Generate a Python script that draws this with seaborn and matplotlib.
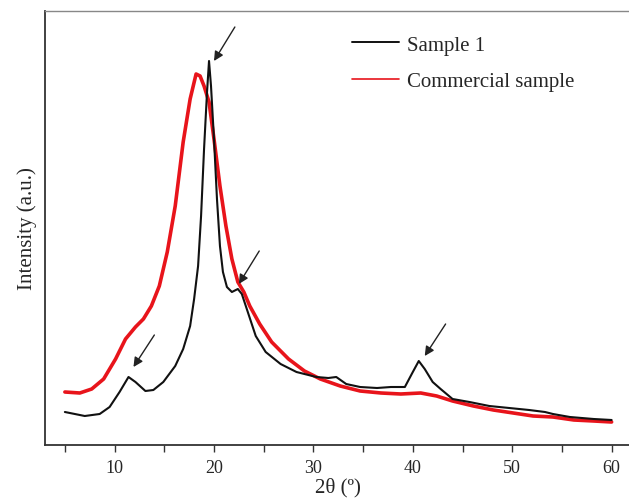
import matplotlib

matplotlib.use("Agg")

import matplotlib.pyplot as plt
import pandas as pd
import seaborn as sns
from matplotlib.lines import Line2D
from matplotlib.ticker import MultipleLocator

# 2-theta positions (deg) and intensities (a.u.)
SAMPLE1_2THETA = [5.0, 7.0, 8.5, 9.5, 10.5, 11.4, 12.1, 13.1, 13.9, 14.9, 16.1, 16.9,
                  17.6, 18.0, 18.4, 18.7, 19.0, 19.3, 19.5, 19.7, 20.0, 20.3, 20.6,
                  20.9, 21.3, 21.8, 22.4, 22.8, 23.4, 24.2, 25.2, 26.7, 28.3, 30.3,
                  31.5, 32.3, 33.3, 34.7, 36.4, 37.8, 39.2, 40.0, 40.6, 41.2, 42.0,
                  42.8, 44.0, 45.7, 47.7, 49.7, 51.7, 53.3, 54.1, 55.8, 58.2, 60.0]
SAMPLE1_INT = [33, 29, 31, 38, 53, 68, 63, 54, 55, 63, 79, 96,
               119, 146, 179, 229, 296, 353, 384, 359, 306, 246, 199,
               173, 158, 153, 156, 151, 133, 109, 93, 81, 73, 68,
               67, 68, 61, 58, 57, 58, 58, 73, 84, 76, 63,
               56, 46, 43, 39, 37, 35, 33, 31, 28, 26, 25]

COMMERCIAL_2THETA = [5.0, 6.5, 7.7, 8.9, 10.1, 11.1, 12.1, 12.9, 13.7, 14.5, 15.3,
                     16.1, 16.9, 17.6, 18.2, 18.6, 19.0, 19.5, 20.0, 20.6, 21.2,
                     21.8, 22.4, 23.0, 23.6, 24.6, 25.8, 27.5, 29.1, 30.7, 32.7,
                     34.7, 36.8, 38.8, 40.8, 42.4, 44.0, 46.1, 48.1, 50.1, 52.1,
                     54.1, 56.2, 58.2, 60.0]
COMMERCIAL_INT = [53, 52, 56, 66, 86, 106, 118, 126, 139, 159, 193,
                  239, 303, 346, 371, 369, 359, 343, 306, 259, 219,
                  186, 163, 153, 139, 121, 103, 86, 74, 66, 59,
                  54, 52, 51, 52, 49, 44, 39, 35, 32, 29,
                  28, 25, 24, 23]

LABELS = ["Sample 1", "Commercial sample"]

# arrows: (tail x, tail y, head x, head y)
ARROWS = [(22.1, 418, 20.0, 384), (24.55, 194, 22.5, 161),
          (14.0, 110, 11.9, 78), (43.3, 121, 41.2, 89)]

sns.set_style("white")
plt.rcParams["font.family"] = ["Liberation Serif", "DejaVu Serif"]

df = pd.concat([
    pd.DataFrame({"two_theta": SAMPLE1_2THETA, "intensity": SAMPLE1_INT, "sample": LABELS[0]}),
    pd.DataFrame({"two_theta": COMMERCIAL_2THETA, "intensity": COMMERCIAL_INT,
                  "sample": LABELS[1]}),
])

fig = plt.figure(figsize=(6.29, 5.02), dpi=100)
ax = fig.add_axes([45 / 629, 56 / 502, 586.5 / 629, 434 / 502])

sns.lineplot(data=df[df["sample"] == LABELS[1]], x="two_theta", y="intensity",
             color="#e8141b", linewidth=2.6, ax=ax, sort=False, legend=False)
sns.lineplot(data=df[df["sample"] == LABELS[0]], x="two_theta", y="intensity",
             color="#111111", linewidth=1.5, ax=ax, sort=False, legend=False)

for x0, y0, x1, y1 in ARROWS:
    ax.annotate("", xy=(x1, y1), xytext=(x0, y0),
                arrowprops=dict(arrowstyle="-|>", color="#222222", lw=1.0,
                                mutation_scale=14, shrinkA=0, shrinkB=0))

ax.set_xlim(3, 62)
ax.set_ylim(0, 434)
ax.xaxis.set_major_locator(MultipleLocator(10))
ax.xaxis.set_minor_locator(MultipleLocator(5))
ax.set_yticks([])
ax.tick_params(axis="x", which="both", direction="out", length=5, width=1.0,
               color="#333333", bottom=True, labelsize=13, pad=5)
ax.set_xticklabels([f"{int(t)}" for t in ax.get_xticks()])
for name in ["left", "bottom"]:
    ax.spines[name].set_color("#333333")
    ax.spines[name].set_linewidth(1.3)
ax.spines["top"].set_color("#888888")
ax.spines["top"].set_linewidth(1.0)
ax.spines["right"].set_visible(False)

ax.set_xlabel("2θ (º)", fontsize=15, labelpad=1)
ax.set_ylabel("Intensity (a.u.)", fontsize=15, labelpad=6)

handles = [Line2D([], [], color="#111111", lw=1.4), Line2D([], [], color="#e8141b", lw=1.2)]
ax.legend(handles, LABELS, loc="upper left",
          bbox_to_anchor=(352 / 629, 1 - 36 / 502), bbox_transform=fig.transFigure,
          frameon=False, fontsize=15, handlelength=2.25, handletextpad=0.4,
          labelspacing=0.8, borderpad=0, borderaxespad=0)

fig.savefig("out.png", dpi=100)
